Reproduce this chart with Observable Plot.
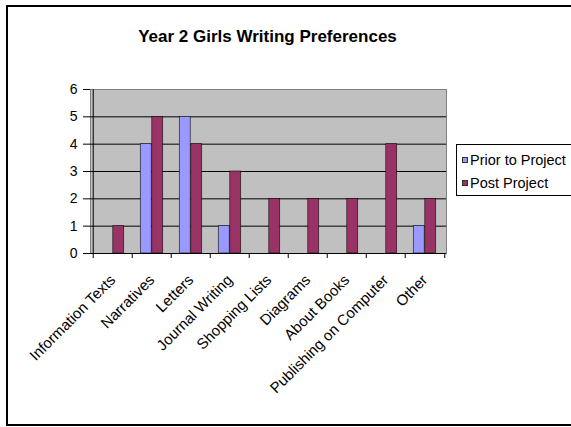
<!DOCTYPE html>
<html>
<head>
<meta charset="utf-8">
<script src="https://cdn.jsdelivr.net/npm/d3@7"></script>
<script src="https://cdn.jsdelivr.net/npm/@observablehq/plot@0.6"></script>
<style>
  html, body { margin: 0; padding: 0; background: #fff; }
  #wrap { position: relative; width: 571px; height: 427px; overflow: hidden; font-family: Arial, "Liberation Sans", sans-serif; color: #000; }
  #border { position: absolute; left: 6px; top: 5px; width: 600px; height: 421px; border: 2px solid #000; box-sizing: border-box; }
  #title { position: absolute; left: 0; width: 535px; top: 27px; text-align: center; font-weight: bold; font-size: 17px; }
  #chart { position: absolute; left: 0; top: 0; }
  #legend { position: absolute; left: 456px; top: 144px; width: 120px; height: 52px; border: 1px solid #000; box-sizing: border-box; background: #fff; font-size: 14.5px; padding: 3px 0 0 5px; white-space: nowrap; }
  .item { display: flex; align-items: center; height: 23px; }
  .sw { width: 6px; height: 6px; border: 1px solid #333; margin-right: 2px; flex: none; box-sizing: border-box; }
</style>
</head>
<body>
<div id="wrap">
  <div id="border"></div>
  <div id="title"></div>
  <div id="chart"></div>
  <div id="legend"></div>
</div>
<script>
// Writing preference counts, before and after the project
const title = "Year 2 Girls Writing Preferences";
const categories = ["Information Texts", "Narratives", "Letters", "Journal Writing", "Shopping Lists", "Diagrams", "About Books", "Publishing on Computer", "Other"];
const series = ["Prior to Project", "Post Project"];
const prior = [0, 4, 5, 1, 0, 0, 0, 0, 1];
const post = [1, 5, 4, 3, 2, 2, 2, 4, 2];
const yTicks = [0, 1, 2, 3, 4, 5, 6];
const colors = ["#9999ff", "#993366"];

document.getElementById("title").textContent = title;

const rows = categories.flatMap((c, i) => [
  {category: c, series: series[0], value: prior[i]},
  {category: c, series: series[1], value: post[i]}
]);

const W = 571, H = 427;
const m = {top: 89, right: 125, bottom: 174, left: 90};
const bw = (W - m.left - m.right) / categories.length;
const barW = bw * 0.29;
const side = bw / 2 - barW;

const bars = (s, left, right) => Plot.barY(rows.filter(d => d.series === s && d.value > 0), {
  x: "category", y: "value", fill: "series",
  stroke: "#000", strokeWidth: 0.7, strokeOpacity: 0.8,
  insetLeft: left, insetRight: right
});

const chart = Plot.plot({
  width: W, height: H,
  marginTop: m.top, marginRight: m.right, marginBottom: m.bottom, marginLeft: m.left,
  style: {background: "transparent", fontFamily: "Arial, 'Liberation Sans', sans-serif", fontSize: "14px", color: "#000", overflow: "visible"},
  x: {domain: categories, padding: 0, label: null},
  y: {domain: [0, 6], label: null},
  color: {domain: series, range: colors},
  marks: [
    Plot.frame({fill: "#c0c0c0", stroke: "#808080"}),
    Plot.gridY(yTicks.filter(v => v > 0 && v < 6), {stroke: "#000", strokeOpacity: 1}),
    bars(series[0], side, bw / 2),
    bars(series[1], bw / 2, side),
    Plot.ruleY([0], {stroke: "#000"}),
    Plot.ruleX([categories[0]], {dx: -bw / 2, stroke: "#000"}),
    Plot.ruleX(categories, {x: d => d, y1: 0, y2: 0, dx: -bw / 2, insetBottom: -5, stroke: "#000"}),
    Plot.ruleX([categories[categories.length - 1]], {x: d => d, y1: 0, y2: 0, dx: bw / 2, insetBottom: -5, stroke: "#000"}),
    Plot.axisY({ticks: yTicks, tickSize: 7, tickPadding: 6, tickFormat: d3.format("d"), fontSize: 14}),
    Plot.axisX({tickSize: 0, tickRotate: -45, tickPadding: 24, fontSize: 15})
  ]
});
document.getElementById("chart").appendChild(chart);

// Legend
const legend = d3.select("#legend");
series.forEach((s, i) => {
  const item = legend.append("div").attr("class", "item");
  item.append("div").attr("class", "sw").style("background", colors[i]);
  item.append("span").text(s);
});
</script>
</body>
</html>
